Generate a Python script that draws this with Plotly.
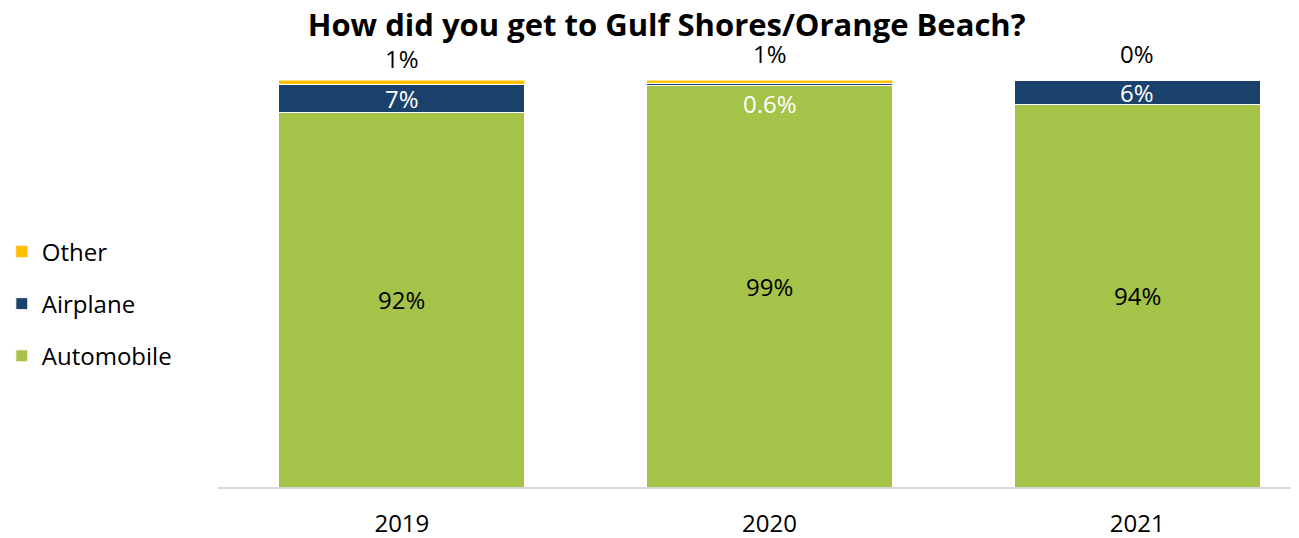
import plotly.graph_objects as go

years = ["2019", "2020", "2021"]
automobile = [92, 98.6, 94]
airplane = [7, 0.6, 6]
other = [1, 0.8, 0]
auto_labels = ["92%", "99%", "94%"]
air_labels = ["7%", "0.6%", "6%"]
other_labels = ["1%", "1%", "0%"]

GREEN = "#A5C249"
NAVY = "#1B426C"
YELLOW = "#FFC000"
FONT = "Open Sans"
FS = 24

fig = go.Figure()
fig.add_trace(go.Bar(name="Automobile", x=years, y=automobile, marker_color=GREEN,
                     marker_line=dict(color="white", width=1), legendgroup="g1",
                     legendrank=3))
fig.add_trace(go.Bar(name="Airplane", x=years, y=airplane, marker_color=NAVY,
                     marker_line=dict(color="white", width=1), legendgroup="g2",
                     legendrank=2))
fig.add_trace(go.Bar(name="Other", x=years, y=other, marker_color=YELLOW,
                     marker_line=dict(color="white", width=0.5), legendgroup="g3",
                     legendrank=1))

# labels (x given as the category index)
for i in range(len(years)):
    fig.add_annotation(x=i, y=automobile[i] / 2, text=auto_labels[i],
                       showarrow=False, font=dict(color="black", size=FS))
    if airplane[i] >= 3:
        fig.add_annotation(x=i, y=automobile[i] + airplane[i] / 2,
                           text=air_labels[i], showarrow=False,
                           font=dict(color="white", size=FS))
    else:
        fig.add_annotation(x=i, y=automobile[i], text=air_labels[i],
                           showarrow=False, yanchor="top", yshift=1,
                           font=dict(color="white", size=FS))
    top = automobile[i] + airplane[i] + other[i]
    fig.add_annotation(x=i, y=top, text=other_labels[i], showarrow=False,
                       yanchor="bottom", yshift=3 if i == 0 else 8,
                       font=dict(color="black", size=FS))

fig.update_layout(
    barmode="stack",
    bargap=0.331,
    width=1299, height=538,
    margin=dict(l=210, r=8, t=72, b=59, autoexpand=False),
    plot_bgcolor="white", paper_bgcolor="white",
    title=dict(text="<b>How did you get to Gulf Shores/Orange Beach?</b>",
               x=0.507, xanchor="center", y=0.968, yanchor="middle",
               font=dict(size=31, color="black")),
    legend=dict(traceorder="grouped", tracegroupgap=18,
                x=-0.2, xanchor="left", y=0.45, yanchor="middle",
                font=dict(size=FS, color="black")),
    xaxis=dict(type="category", range=[-0.5, 2.44], showline=True,
               linecolor="#D9D9D9", linewidth=1.5,
               ticks="outside", ticklen=14, tickcolor="white", automargin=False,
               tickfont=dict(size=FS, color="black")),
    yaxis=dict(range=[0, 100], visible=False),
    font=dict(family=FONT),
)

fig.write_html("out.html")
